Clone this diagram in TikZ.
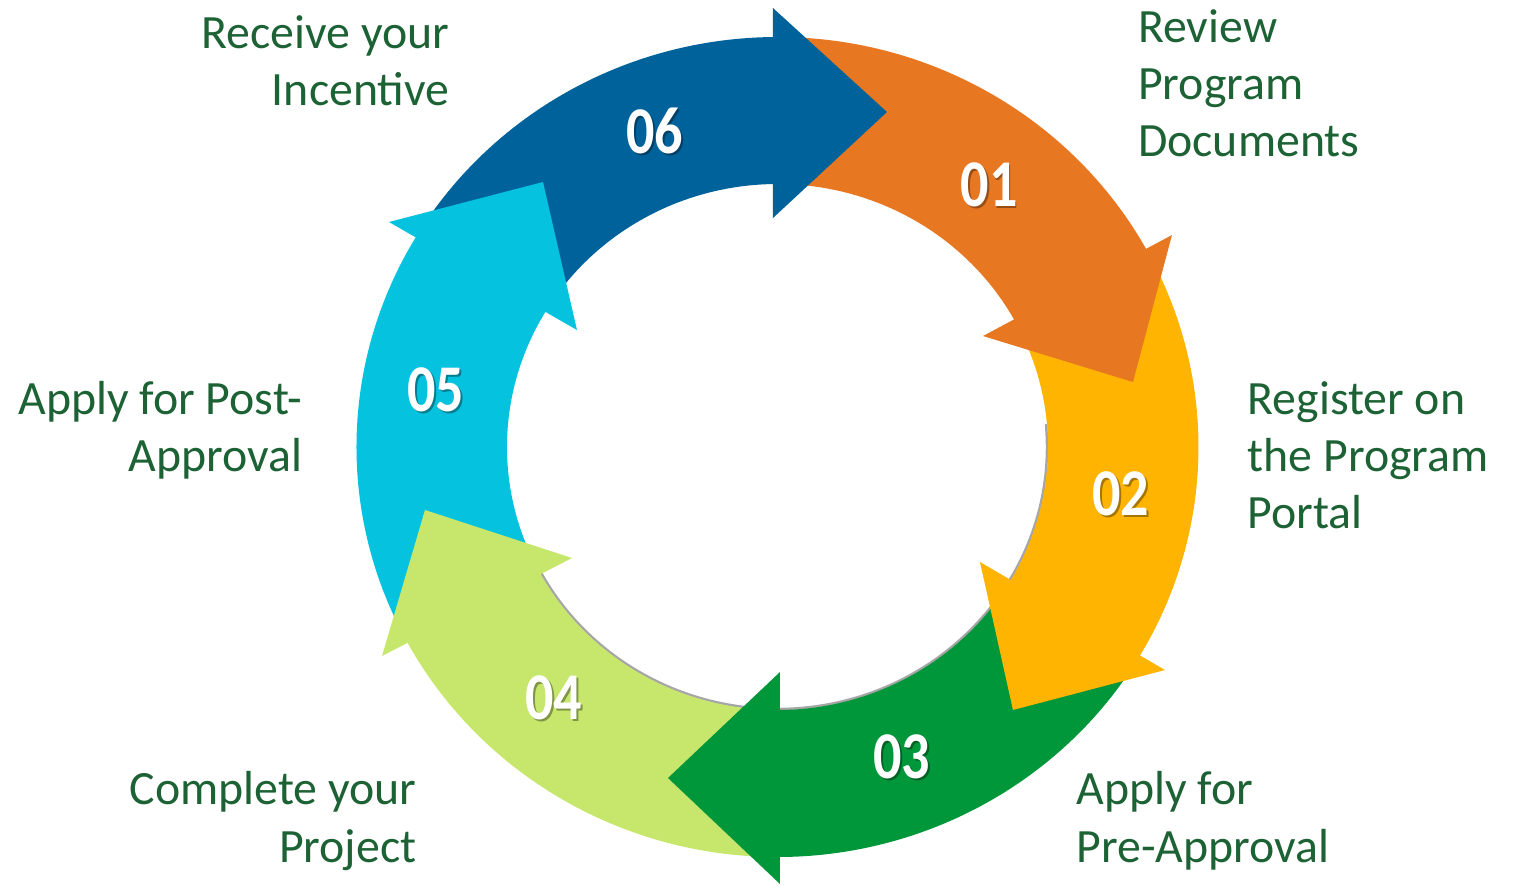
\documentclass[tikz,border=0pt]{standalone}
\usepackage{fontspec}
\setmainfont{Carlito}
\newfontfamily\numfont[FakeStretch=0.84]{Carlito}
\definecolor{stepone}{RGB}{232,119,34}
\definecolor{steptwo}{RGB}{254,180,0}
\definecolor{stepthree}{RGB}{0,150,58}
\definecolor{stepfour}{RGB}{198,230,108}
\definecolor{stepfive}{RGB}{5,194,222}
\definecolor{stepsix}{RGB}{0,98,155}
\definecolor{labelgreen}{RGB}{28,98,52}

\begin{document}
\begin{tikzpicture}[
    lbl/.style={text=labelgreen,font=\fontsize{13.6}{16.3}\selectfont,inner sep=0pt},
    num/.style={text=white,font=\fontsize{19}{22}\numfont\bfseries},
    numshade/.style={text=black,opacity=0.35,font=\fontsize{19}{22}\numfont\bfseries}
]
\useasboundingbox (-7.775,-4.38) rectangle (7.395,4.47);

% thin shadow along the inside
\draw[black!35,line width=0.7pt] (5:2.695 and 2.62) arc[start angle=5,end angle=-152,x radius=2.695,y radius=2.62];

% arrow bodies
\fill[stepone]   (89:4.21 and 4.10) arc[start angle=89,end angle=25,x radius=4.21,y radius=4.10] -- (25:2.705 and 2.63) arc[start angle=25,end angle=89,x radius=2.705,y radius=2.63] -- cycle;
\fill[steptwo]   (27:4.21 and 4.10) arc[start angle=27,end angle=-33,x radius=4.21,y radius=4.10] -- (-33:2.705 and 2.63) arc[start angle=-33,end angle=27,x radius=2.705,y radius=2.63] -- cycle;
\fill[stepthree] (-31:4.21 and 4.10) arc[start angle=-31,end angle=-93,x radius=4.21,y radius=4.10] -- (-93:2.705 and 2.63) arc[start angle=-93,end angle=-31,x radius=2.705,y radius=2.63] -- cycle;
\fill[stepfour]  (-91:4.21 and 4.10) arc[start angle=-91,end angle=-155,x radius=4.21,y radius=4.10] -- (-155:2.705 and 2.63) arc[start angle=-155,end angle=-91,x radius=2.705,y radius=2.63] -- cycle;
\fill[stepfive]  (207:4.21 and 4.10) arc[start angle=207,end angle=146,x radius=4.21,y radius=4.10] -- (146:2.705 and 2.63) arc[start angle=146,end angle=207,x radius=2.705,y radius=2.63] -- cycle;
\fill[stepsix]   (148:4.21 and 4.10) arc[start angle=148,end angle=87,x radius=4.21,y radius=4.10] -- (87:2.705 and 2.63) arc[start angle=87,end angle=148,x radius=2.705,y radius=2.63] -- cycle;

% arrow heads
\fill[stepone]   (3.945,2.12) -- (3.555,0.65) -- (2.055,1.11) -- cycle;
\fill[steptwo]   (3.875,-2.23) -- (2.355,-2.63) -- (2.025,-1.15) -- cycle;
\fill[stepthree] (0.025,-4.37) -- (-1.095,-3.31) -- (0.025,-2.25) -- cycle;
\fill[stepfour]  (-3.955,-2.09) -- (-3.525,-0.63) -- (-2.055,-1.11) -- cycle;
\fill[stepfive]  (-3.885,2.25) -- (-2.345,2.65) -- (-2.005,1.17) -- cycle;
\fill[stepsix]   (-0.045,4.39) -- (1.095,3.35) -- (-0.045,2.29) -- cycle;

% numbers
\node[numshade] at (2.135,2.60) {01};
\node[numshade] at (3.455,-0.49) {02};
\node[numshade] at (1.265,-3.12) {03};
\node[numshade] at (-2.215,-2.53) {04};
\node[numshade] at (-3.395,0.55) {05};
\node[numshade] at (-1.205,3.14) {06};
\node[num] (n01) at (2.115,2.62) {01};
\node[num] (n02) at (3.435,-0.47) {02};
\node[num] (n03) at (1.245,-3.10) {03};
\node[num] (n04) at (-2.235,-2.51) {04};
\node[num] (n05) at (-3.415,0.57) {05};
\node[num] (n06) at (-1.225,3.16) {06};

% labels
\node[lbl,anchor=north west,align=left] (review) at (3.6,4.385) {Review\\Program\\Documents};
\node[lbl,anchor=north west,align=left] (register) at (4.695,0.665) {Register on\\the Program\\Portal};
\node[lbl,anchor=north west,align=left] (preapp) at (2.985,-3.24) {Apply for\\Pre-Approval};
\node[lbl,anchor=north east,align=right] (complete) at (-3.605,-3.24) {Complete your\\Project};
\node[lbl,anchor=north east,align=right] (postapp) at (-4.745,0.665) {Apply for Post-\\Approval};
\node[lbl,anchor=north east,align=right] (receive) at (-3.275,4.325) {Receive your\\Incentive};
\end{tikzpicture}
\end{document}
